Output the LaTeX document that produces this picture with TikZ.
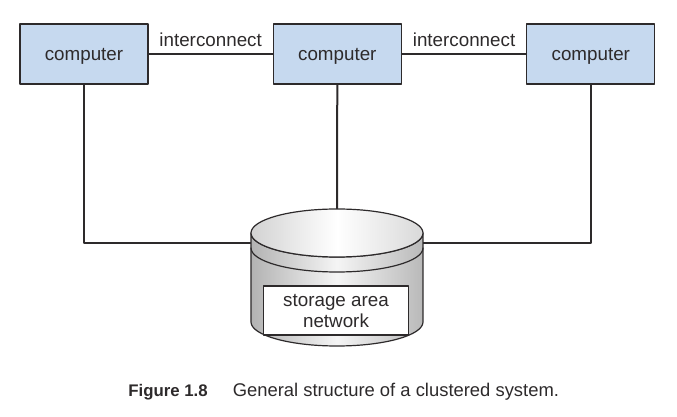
\documentclass[tikz,border=0pt]{standalone}
\usepackage{fontspec}
\setmainfont{Liberation Sans}
\usepackage{xcolor}
\usepackage{tikz}
\usetikzlibrary{calc}

\definecolor{boxblue}{RGB}{198,217,239}
\definecolor{inkgray}{RGB}{45,42,43}

\begin{document}
\begin{tikzpicture}[x=0.5pt, y=0.5pt, line cap=round, line join=round,
    pcbox/.style={draw=inkgray, line width=0.6pt, fill=boxblue,
      minimum width=64pt, minimum height=30pt, inner sep=0pt,
      text height=6.9pt, text depth=0pt,
      font=\fontsize{9.4}{11}\selectfont, text=inkgray},
    wire/.style={draw=inkgray, line width=1pt},
    lbl/.style={font=\fontsize{9.4}{10.5}\selectfont, text=inkgray}]
    \useasboundingbox (0,0) rectangle (677,-417);

    % --- computers ---
    \foreach \i/\x in {1/84, 2/337.3, 3/590.8}{
      \node[pcbox] (c\i) at (\x,-54) {computer};
    }

    % interconnects
    \draw[wire] (c1.east) -- node[lbl, above, inner sep=3pt] {interconnect} (c2.west);
    \draw[wire] (c2.east) -- node[lbl, above, inner sep=3pt] {interconnect} (c3.west);

    % --- storage area network (cylinder) ---
    \coordinate (sanL) at (251,-243);
    \coordinate (sanR) at (423,-243);
    \coordinate (sanT) at (337,-209);

    \draw[wire] (c1.south) |- (sanL);
    \draw[wire] (c3.south) |- (sanR);
    \draw[wire] (c2.south) -- (sanT);

    \begin{scope}[draw=inkgray, line width=0.6pt]
      % body
      \draw[left color=gray!60, right color=gray!55, middle color=gray!8]
        (251,-233) -- (251,-322) arc (180:360:43pt and 12pt)
        -- (423,-233) arc (0:-180:43pt and 12pt) -- cycle;
      % top
      \draw[left color=gray!35, right color=gray!30, middle color=white]
        (337,-233) ellipse (43pt and 12pt);
      % band
      \draw (251,-248) arc (180:360:43pt and 12pt);
    \end{scope}

    \node[draw=inkgray, line width=0.6pt, fill=white, minimum width=72.5pt,
      minimum height=24.5pt, inner sep=0pt] (sanbox) at (335.8,-310.5) {};
    \node[lbl, align=center] (santxt) at (336,-311)
      {storage area\\network};

    % caption
    \node[anchor=west, inner sep=0pt, text=inkgray] (cap) at (128,-392)
      {\fontsize{8.4}{10}\selectfont\bfseries Figure 1.8\hspace{12.5pt}%
       \fontsize{9.2}{10}\mdseries General structure of a clustered system.};
  \end{tikzpicture}
\end{document}
